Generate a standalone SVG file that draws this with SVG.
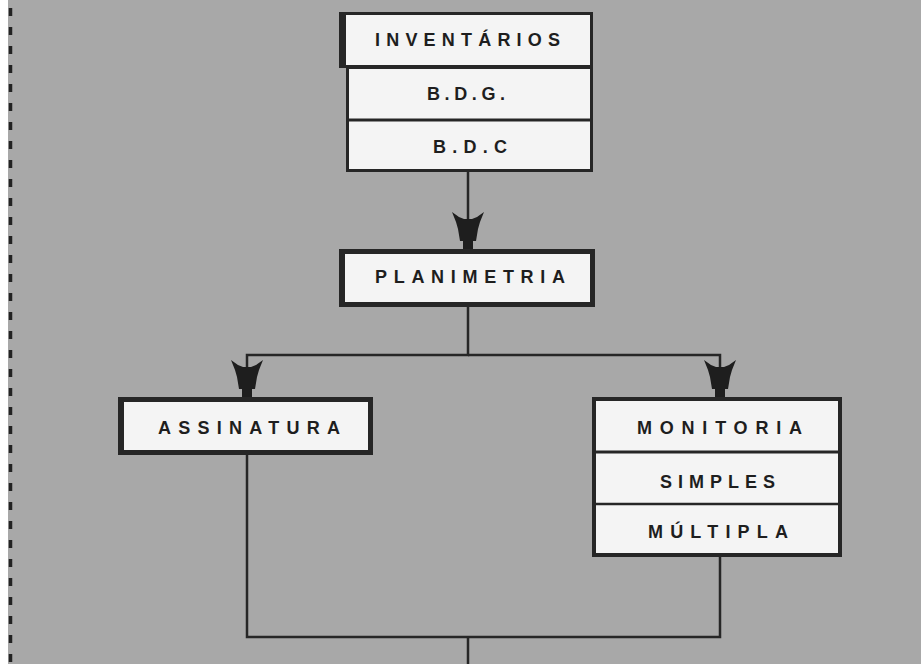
<svg xmlns="http://www.w3.org/2000/svg" width="921" height="664" viewBox="0 0 921 664">
<style>
.bg{fill:#a8a8a8}
.box{fill:#f4f4f4;stroke:#262626}
.t{font-family:"Liberation Sans",Arial,sans-serif;font-weight:bold;font-size:18px;fill:#1e1e1e}
.ln{fill:none;stroke:#262626;stroke-width:2.5}
.ah{fill:#1e1e1e}
</style>
<defs>
<path id="arrow" d="M0,0 L-5,0 L-5,-8 L-8,-8 L-10,-20 L-12,-27 L-16,-37 L-9,-32 L-4,-30 L4,-30 L9,-32 L16,-37 L12,-27 L10,-20 L8,-8 L5,-8 L5,0 Z"/>
</defs>
<rect x="0" y="0" width="921" height="664" fill="#ffffff"/>
<rect class="bg" x="8" y="0" width="913" height="664"/>
<line x1="10.5" y1="8" x2="10.5" y2="664" stroke="#222" stroke-width="3.5" stroke-dasharray="8 11"/>

<g id="connectors">
<line class="ln" x1="468" y1="172" x2="468" y2="249"/>
<polyline class="ln" points="468,307 468,355 247,355 247,397"/>
<polyline class="ln" points="468,355 720,355 720,397"/>
<polyline class="ln" points="247,455 247,637 720,637 720,557"/>
<line class="ln" x1="468" y1="637" x2="468" y2="664"/>
<use href="#arrow" class="ah" transform="translate(468,249)"/>
<use href="#arrow" class="ah" transform="translate(247,397)"/>
<use href="#arrow" class="ah" transform="translate(720,397)"/>
</g>

<g id="inventarios">
<rect class="box" x="347.5" y="67.5" width="244" height="103" stroke-width="3"/>
<line x1="347" y1="120" x2="592" y2="120" stroke="#262626" stroke-width="3"/>
<rect class="box" x="340.5" y="13.5" width="251" height="53" stroke-width="3"/>
<rect x="339" y="12" width="7" height="56" fill="#262626"/>
<text class="t" x="375" y="46" textLength="185" lengthAdjust="spacing">INVENTÁRIOS</text>
<text class="t" x="427" y="100" textLength="78" lengthAdjust="spacing">B.D.G.</text>
<text class="t" x="433" y="153" textLength="74" lengthAdjust="spacing">B.D.C</text>
</g>

<g id="planimetria">
<rect class="box" x="341.5" y="251.5" width="251" height="53" stroke-width="5"/>
<rect x="339" y="249" width="6" height="58" fill="#262626"/>
<text class="t" x="375" y="283" textLength="190" lengthAdjust="spacing">PLANIMETRIA</text>
</g>

<g id="assinatura">
<rect class="box" x="120.5" y="399.5" width="250" height="53" stroke-width="5"/>
<rect x="118" y="397" width="6" height="58" fill="#262626"/>
<text class="t" x="158" y="434" textLength="182" lengthAdjust="spacing">ASSINATURA</text>
</g>

<g id="monitoria">
<rect class="box" x="594" y="399" width="246" height="156" stroke-width="4"/>
<line x1="594" y1="452" x2="840" y2="452" stroke="#262626" stroke-width="3"/>
<line x1="594" y1="504" x2="840" y2="504" stroke="#262626" stroke-width="2.5"/>
<text class="t" x="637" y="434" textLength="165" lengthAdjust="spacing">MONITORIA</text>
<text class="t" x="660" y="488" textLength="115" lengthAdjust="spacing">SIMPLES</text>
<text class="t" x="648" y="538" textLength="140" lengthAdjust="spacing">MÚLTIPLA</text>
</g>
</svg>
